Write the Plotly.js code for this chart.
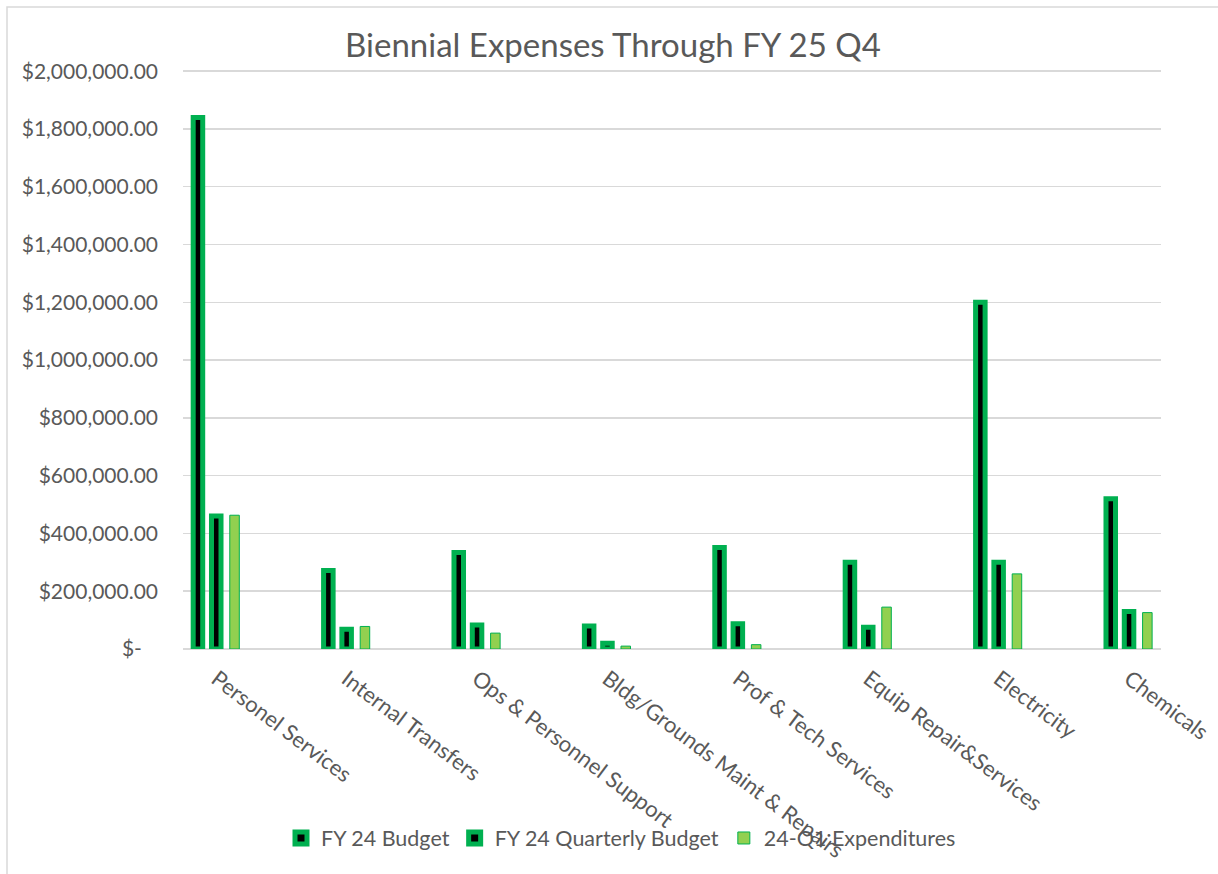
<!DOCTYPE html>
<html>
<head>
<meta charset="utf-8">
<script src="https://cdn.plot.ly/plotly-3.0.1.min.js"></script>
<style>
  html, body { margin: 0; padding: 0; background: #ffffff; }
  #chart { width: 1218px; height: 874px; }
</style>
</head>
<body>
<div id="chart"></div>
<script>
// ---- data ----
const categories = [
  "Personel Services",
  "Internal Transfers",
  "Ops & Personnel Support",
  "Bldg/Grounds Maint & Repairs",
  "Prof & Tech Services",
  "Equip Repair&Services",
  "Electricity",
  "Chemicals"
];
const fy24Budget = [1840000, 272000, 334000, 80000, 351000, 300000, 1200000, 520000];
const fy24QuarterlyBudget = [460000, 68000, 83500, 20000, 87750, 75000, 300000, 130000];
const q1Expenditures = [463000, 78000, 55000, 10000, 15000, 145000, 260000, 126000];

const yTickVals = [0, 200000, 400000, 600000, 800000, 1000000, 1200000, 1400000, 1600000, 1800000, 2000000];
const yTickText = ["$-\u00A0\u00A0\u00A0", "$200,000.00", "$400,000.00", "$600,000.00", "$800,000.00",
  "$1,000,000.00", "$1,200,000.00", "$1,400,000.00", "$1,600,000.00", "$1,800,000.00", "$2,000,000.00"];

const seriesNames = ["FY 24 Budget", "FY 24 Quarterly Budget", "24-Q1 Expenditures"];

const GREEN = "#00B050";
const LIGHT = "#92D050";
const TXT = "#595959";
const FONT = "Lato, 'Open Sans', sans-serif";

const traces = [
  {
    type: "bar", name: seriesNames[0], x: categories, y: fy24Budget,
    marker: { color: "#000000", line: { color: GREEN, width: 5 } }
  },
  {
    type: "bar", name: seriesNames[1], x: categories, y: fy24QuarterlyBudget,
    marker: { color: "#000000", line: { color: GREEN, width: 5 } }
  },
  {
    type: "bar", name: seriesNames[2], x: categories, y: q1Expenditures,
    marker: { color: LIGHT, line: { color: GREEN, width: 1 } }
  }
];

// plot area: x 183..1161, y 70..649 (range top padded slightly so the top gridline shows)
const L = 183, R = 1161, T = 70, B = 649;
const W = R - L, H = B - T;
const px = v => (v - L) / W;
const py = v => (B - v) / H;

const layout = {
  width: 1218, height: 874,
  margin: { l: L, r: 1218 - R, t: T, b: 874 - B, pad: 0 },
  paper_bgcolor: "#ffffff",
  plot_bgcolor: "#ffffff",
  font: { family: FONT, color: TXT, size: 21 },
  title: {
    text: "Biennial Expenses Through FY 25 Q4",
    font: { family: FONT, size: 33, color: TXT },
    x: 613 / 1218, xref: "container", xanchor: "center",
    y: 1 - 45 / 874, yref: "container", yanchor: "middle"
  },
  barmode: "group",
  bargap: 0.579,
  bargroupgap: 0.48,
  xaxis: {
    type: "category",
    range: [-0.255, 7.245],
    tickangle: 37,
    showgrid: false,
    showline: false,
    zeroline: false,
    ticks: "",
    ticklabelstandoff: 12,
    tickfont: { family: FONT, size: 22, color: TXT },
    automargin: false
  },
  yaxis: {
    range: [0, 2004000],
    tickvals: yTickVals,
    ticktext: yTickText,
    showgrid: true,
    gridcolor: "#d9d9d9",
    gridwidth: 1.5,
    zeroline: true,
    zerolinecolor: "#d9d9d9",
    zerolinewidth: 1.5,
    showline: false,
    ticks: "",
    ticklabelstandoff: 24,
    tickfont: { family: FONT, size: 21, color: TXT },
    automargin: false
  },
  legend: {
    orientation: "h",
    x: px(621), xanchor: "center",
    y: py(838), yanchor: "middle",
    font: { family: FONT, size: 21.5, color: TXT },
    bgcolor: "rgba(0,0,0,0)",
    itemwidth: 30,
    traceorder: "normal"
  },
  shapes: [
    {
      type: "rect", xref: "paper", yref: "paper", layer: "below",
      x0: px(7), x1: px(1230), y0: py(1000), y1: py(7),
      line: { color: "#d9d9d9", width: 1.5 }, fillcolor: "rgba(0,0,0,0)"
    }
  ],
  showlegend: true
};

Plotly.newPlot("chart", traces, layout, { staticPlot: true, displayModeBar: false });
</script>
</body>
</html>
